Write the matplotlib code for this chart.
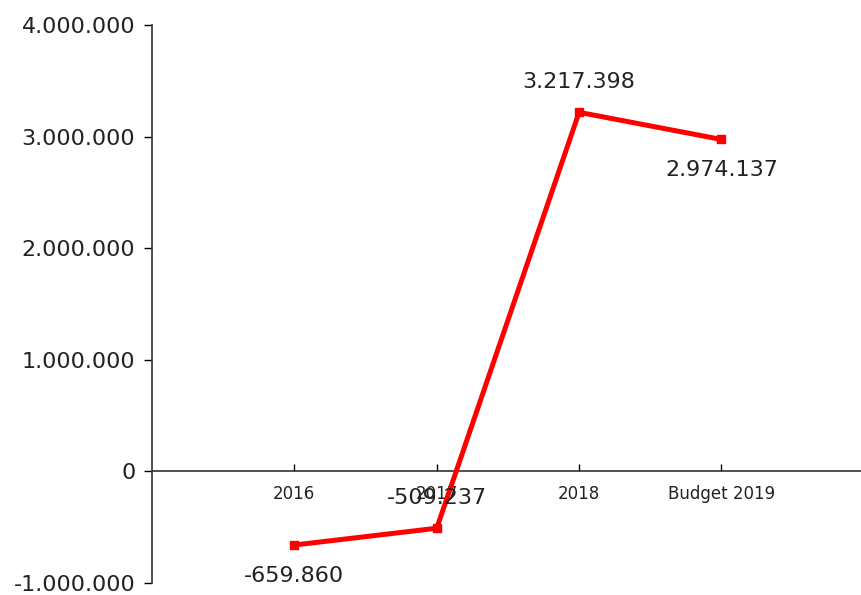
import matplotlib.pyplot as plt
from matplotlib.ticker import FuncFormatter

# data
categories = ['2016', '2017', '2018', 'Budget 2019']
values = [-659860, -509237, 3217398, 2974137]
label_side = [-1, 1, 1, -1]  # below / above the point

def dots(v, pos=None):
    return f'{int(round(v)):,}'.replace(',', '.')

fig = plt.figure(figsize=(8.61, 5.95), dpi=100)
ax = fig.add_axes([0.1765, 0.0202, 0.8235, 0.9378])

# spines first (set_position resets the ticks)
ax.spines['top'].set_visible(False)
ax.spines['right'].set_visible(False)
ax.spines['bottom'].set_position(('data', 0))
ax.spines['left'].set_color('#333333')
ax.spines['bottom'].set_color('#333333')
ax.spines['left'].set_linewidth(1.2)
ax.spines['bottom'].set_linewidth(1.2)

x = list(range(1, len(categories) + 1))
ax.plot(x, values, color='#ff0000', lw=3.6, marker='s', markersize=6,
        solid_joinstyle='miter', zorder=3)

for xi, v, s in zip(x, values, label_side):
    ax.annotate(dots(v), (xi, v), xytext=(0, 22 * s), textcoords='offset points',
                ha='center', va='center', fontsize=16, color='#222222')

ax.set_xlim(0, 4.98)
ax.set_ylim(-1000000, 4000000)
ax.set_yticks([-1000000, 0, 1000000, 2000000, 3000000, 4000000])
ax.yaxis.set_major_formatter(FuncFormatter(dots))

ax.set_xticks(x)
ax.set_xticklabels(categories)
ax.tick_params(axis='x', direction='in', length=5, pad=10, width=1,
               labelsize=12, labelcolor='#222222')
ax.tick_params(axis='y', direction='out', length=6, labelsize=16,
               labelcolor='#222222', width=1, pad=6)

fig.savefig('out.png', dpi=100)
